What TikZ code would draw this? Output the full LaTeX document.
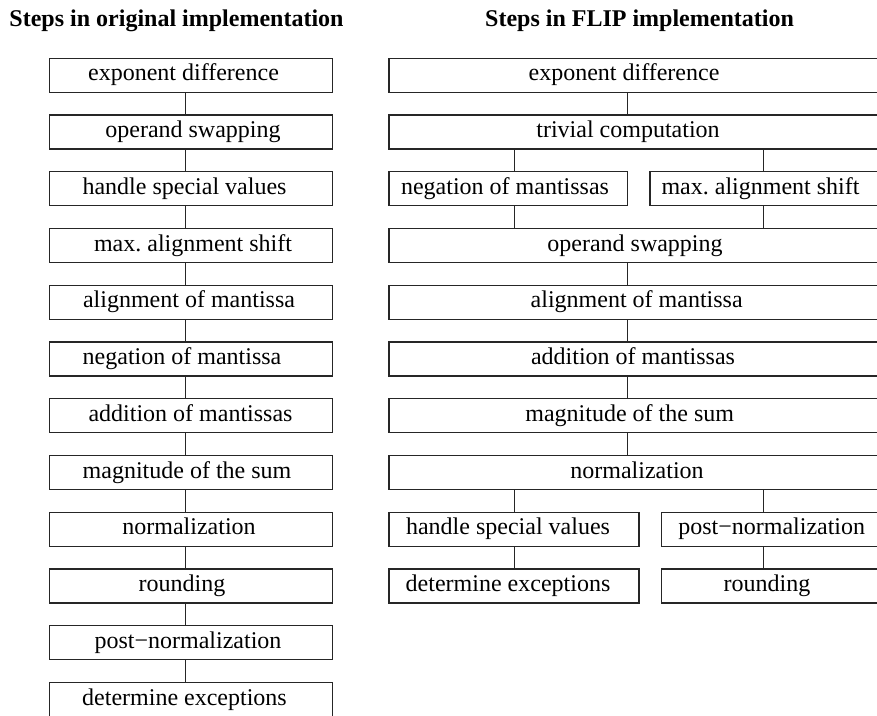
\documentclass[tikz,border=0pt]{standalone}
\usepackage{fontspec}
\setmainfont{Liberation Serif}
\frenchspacing
\tikzset{
  box/.style={draw=black!85, line width=1.2pt, rectangle, inner sep=0pt, outer sep=0pt, minimum height=34pt},
  txt/.style={anchor=base, inner sep=0pt, font=\fontsize{24}{28}\selectfont},
  ttl/.style={anchor=base, inner sep=0pt, font=\fontsize{24}{28}\selectfont\bfseries},
  link/.style={draw=black!85, line width=1.2pt}
}
\begin{document}
\begin{tikzpicture}[x=1pt,y=-1pt]
\useasboundingbox (0,0) rectangle (877,715);
\clip (0,0) rectangle (877,715);
% titles
\node[ttl] (title1) at (176.5,26) {Steps in original implementation};
\node[ttl] (title2) at (639.5,26) {Steps in FLIP implementation};
% connector x positions
\coordinate (cl) at (185.3,0);
\coordinate (cr) at (627.3,0);
\coordinate (ca) at (514.3,0);
\coordinate (cb) at (763.3,0);
% left column
\foreach \k/\tx/\lab in {0/183.5/exponent difference, 1/193/operand swapping, 2/184.5/handle special values, 3/193/max.\ alignment shift, 4/189/alignment of mantissa, 5/182/negation of mantissa, 6/190.5/addition of mantissas, 7/187/magnitude of the sum, 8/189/normalization, 9/182/rounding, 10/188/post−normalization, 11/184.5/determine exceptions}{
  \pgfmathsetmacro\tp{58.3+56.75*\k}
  \node[box, minimum width=283.4pt] (L\k) at (191,\tp+17) {};
  \node[txt] (LT\k) at (\tx,\tp+22.5) {\lab};
}
\foreach \k in {0,...,10}{
  \pgfmathtruncatemacro\n{\k+1}
  \draw[link] (L\k.south -| cl) -- (L\n.north -| cl);
}
% right column full-width rows
\foreach \k/\nm/\tx/\lab in {0/R0/624/exponent difference, 1/R1/628/trivial computation, 3/R3/635/operand swapping, 4/R4/636.7/alignment of mantissa, 5/R5/633/addition of mantissas, 6/R6/629.7/magnitude of the sum, 7/R7/637/normalization}{
  \pgfmathsetmacro\tp{58.3+56.75*\k}
  \node[box, minimum width=493pt] (\nm) at (635.5,\tp+17) {};
  \node[txt] (\nm T) at (\tx,\tp+22.5) {\lab};
}
% split row 2
\node[box, minimum width=238.3pt] (R2a) at (508.15,188.8) {};
\node[txt] (R2aT) at (505,194.3) {negation of mantissas};
\node[box, minimum width=232pt] (R2b) at (766,188.8) {};
\node[txt] (R2bT) at (760.5,194.3) {max.\ alignment shift};
% split rows 8 and 9
\node[box, minimum width=250pt] (R8a) at (514,529.3) {};
\node[txt] (R8aT) at (508,534.8) {handle special values};
\node[box, minimum width=220.3pt] (R8b) at (771.85,529.3) {};
\node[txt] (R8bT) at (771.7,534.8) {post−normalization};
\node[box, minimum width=250pt] (R9a) at (514,586.05) {};
\node[txt] (R9aT) at (508,591.55) {determine exceptions};
\node[box, minimum width=220.3pt] (R9b) at (771.85,586.05) {};
\node[txt] (R9bT) at (767,591.55) {rounding};
% right connectors
\draw[link] (R0.south -| cr) -- (R1.north -| cr);
\draw[link] (R1.south -| ca) -- (R2a.north -| ca);
\draw[link] (R1.south -| cb) -- (R2b.north -| cb);
\draw[link] (R2a.south -| ca) -- (R3.north -| ca);
\draw[link] (R2b.south -| cb) -- (R3.north -| cb);
\draw[link] (R3.south -| cr) -- (R4.north -| cr);
\draw[link] (R4.south -| cr) -- (R5.north -| cr);
\draw[link] (R5.south -| cr) -- (R6.north -| cr);
\draw[link] (R6.south -| cr) -- (R7.north -| cr);
\draw[link] (R7.south -| ca) -- (R8a.north -| ca);
\draw[link] (R7.south -| cb) -- (R8b.north -| cb);
\draw[link] (R8a.south -| ca) -- (R9a.north -| ca);
\draw[link] (R8b.south -| cb) -- (R9b.north -| cb);
\end{tikzpicture}
\end{document}
